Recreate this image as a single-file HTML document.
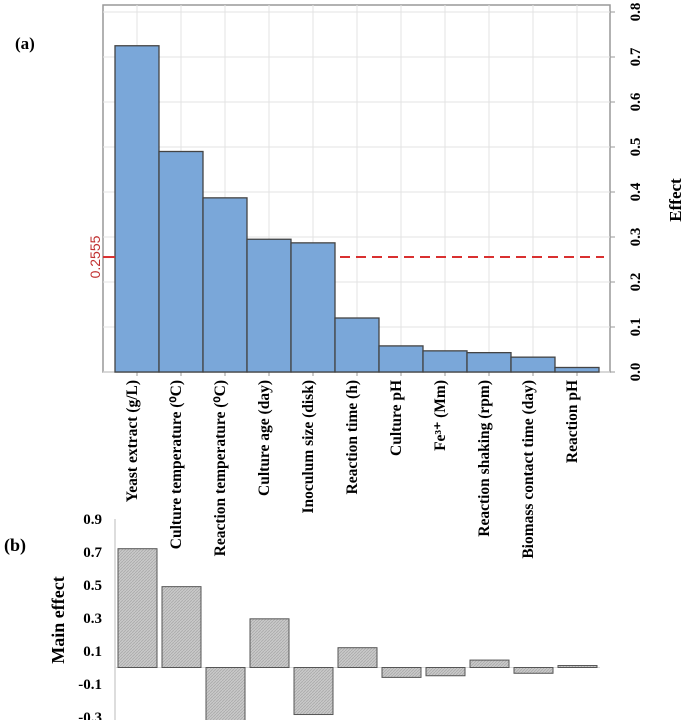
<!DOCTYPE html>
<html><head><meta charset="utf-8"><style>
body{margin:0;background:#fff}
svg{display:block;font-family:"Liberation Serif",serif}
</style></head><body>
<svg id="c" width="685" height="720">
<defs><pattern id="hatch" width="3" height="3" patternUnits="userSpaceOnUse"><rect width="3" height="3" fill="#c9c9c9"/><path d="M0,3 L3,0" stroke="#aaa" stroke-width="0.8"/></pattern></defs>
</svg>
<script>
const categories=["Yeast extract (g/L)","Culture temperature (⁰C)","Reaction temperature (⁰C)","Culture age (day)","Inoculum size (disk)","Reaction time (h)","Culture pH","Fe³⁺ (Mm)","Reaction shaking (rpm)","Biomass contact time (day)","Reaction pH"];
const effectValues=[0.725,0.49,0.387,0.295,0.287,0.12,0.058,0.047,0.043,0.033,0.01];
const mainEffectValues=[0.72,0.49,-0.33,0.295,-0.285,0.12,-0.06,-0.05,0.045,-0.035,0.012];
const effectTicks=["0.0","0.1","0.2","0.3","0.4","0.5","0.6","0.7","0.8"];
const mainTicks=["0.9","0.7","0.5","0.3","0.1","-0.1","-0.3"];
const threshold=0.2555;
const svg=document.getElementById('c');const NS='http://www.w3.org/2000/svg';
function mk(t,a,p){const e=document.createElementNS(NS,t);for(const k in a)e.setAttribute(k,a[k]);(p||svg).appendChild(e);return e;}
const yA=v=>372-v*450;
const xA=i=>115+i*44;
const fr=mk('rect',{x:103,y:5,width:507,height:367,fill:'#fff',stroke:'#999','stroke-width':1.5});


effectTicks.forEach((t,i)=>{const v=parseFloat(t);const y=yA(v);
 const g=mk('line',{x1:103,x2:610,y1:y,y2:y,stroke:'#e3e3e3'});
 
 
 mk('line',{x1:610,x2:615,y1:y,y2:y,stroke:'#999'});
 const tx=mk('text',{x:0,y:0,transform:`translate(640,${y}) rotate(-90)`,'text-anchor':'middle','font-size':15,'font-weight':'bold'});tx.textContent=t;
 
 
});
categories.forEach((c,i)=>{const cx=xA(i)+22;
 const g=mk('line',{x1:cx,x2:cx,y1:5,y2:372,stroke:'#e3e3e3'});
 
 
 mk('line',{x1:cx,x2:cx,y1:372,y2:376,stroke:'#999'});
 const b=mk('rect',{x:xA(i),y:yA(effectValues[i]),width:44,height:372-yA(effectValues[i]),fill:'#7aa7d9',stroke:'#444','stroke-width':1.3});
 
 
 const t=mk('text',{x:0,y:0,transform:`translate(${cx},380) rotate(-90)`,'text-anchor':'end','font-size':15.5,'font-weight':'bold'});t.textContent=c;
 
 
});
const th=mk('line',{x1:340,x2:604,y1:yA(threshold),y2:yA(threshold),stroke:'#d93030','stroke-width':2,'stroke-dasharray':'10,6'});


mk('line',{x1:103,x2:115,y1:yA(threshold),y2:yA(threshold),stroke:'#d93030','stroke-width':2});
const tl=mk('text',{x:0,y:0,transform:`translate(100,${yA(threshold)}) rotate(-90)`,'text-anchor':'middle','font-size':14,fill:'#c03030','font-family':'Liberation Sans Narrow, Liberation Sans, sans-serif'});tl.textContent=threshold.toString();


const el=mk('text',{x:0,y:0,transform:'translate(681,200) rotate(-90)','text-anchor':'middle','font-size':17,'font-weight':'bold'});el.textContent='Effect';


const la=mk('text',{x:15,y:49,'font-size':17,'font-weight':'bold'});la.textContent='(a)';


const yB=v=>667.5-v*165;
const ax=mk('line',{x1:115,x2:115,y1:yB(0.9),y2:720,stroke:'#bbb'});


mainTicks.forEach(t=>{const y=yB(parseFloat(t));
 const tx=mk('text',{x:102,y:y+5,'text-anchor':'end','font-size':15,'font-weight':'bold'});tx.textContent=t;
 
 
});
const zl=mk('line',{x1:115,x2:600,y1:yB(0),y2:yB(0),stroke:'#ddd'});


mainEffectValues.forEach((v,i)=>{const y0=yB(0),y1=yB(v);
 const b=mk('rect',{x:xA(i)+3,y:Math.min(y0,y1),width:39,height:Math.abs(y1-y0),fill:'url(#hatch)',stroke:'#555','stroke-width':1});
 
 
});
const ml=mk('text',{x:0,y:0,transform:'translate(64,620) rotate(-90)','text-anchor':'middle','font-size':18,'font-weight':'bold'});ml.textContent='Main effect';


const lb=mk('text',{x:4,y:551,'font-size':18,'font-weight':'bold'});lb.textContent='(b)';


</script>
</body></html>
